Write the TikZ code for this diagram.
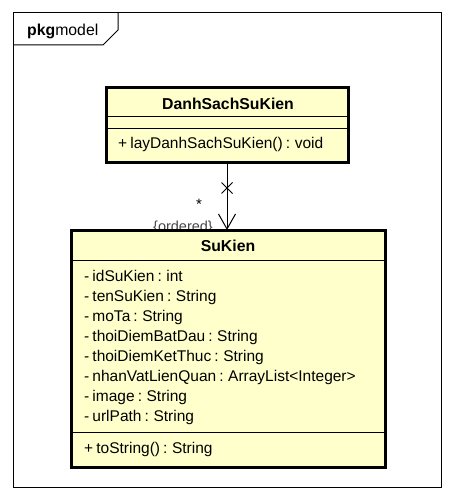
\documentclass[tikz,border=0pt]{standalone}
\usepackage{fontspec}
\setmainfont{Liberation Sans}
\usetikzlibrary{arrows.meta,shapes.misc}
\definecolor{classfill}{RGB}{255,255,204}
\definecolor{ordgray}{RGB}{70,70,70}
\newcommand{\tightsp}{\spaceskip=0.2em plus 0.05em\relax}
\tikzset{
  classbox/.style={draw=black, line width=3pt, fill=classfill, rectangle, inner sep=0pt, outer sep=0pt},
  sepline/.style={draw=black, line width=1pt},
  member/.style={anchor=west, inner sep=0pt, font=\fontsize{15.5}{18}\selectfont\tightsp, text height=10.5pt, text depth=3pt},
  ctitle/.style={inner sep=0pt, font=\bfseries\fontsize{15.8}{18}\selectfont},
  frameline/.style={draw=black, line width=1pt},
}
\begin{document}
\begin{tikzpicture}[x=1pt,y=-1pt]
\useasboundingbox (0,0) rectangle (454,500);
% package frame
\node[frameline, rectangle, inner sep=0pt, minimum width=428pt, minimum height=474pt] (frame) at (227,250) {};
\draw[frameline] (13,45) coordinate (tabA) -- (103,45) -- (118,30) -- (118,13) coordinate (tabB);
\node[anchor=west, inner sep=0pt, font=\fontsize{15.8}{18}\selectfont] (pkg) at (27,31) {\textbf{pkg}model};
% DanhSachSuKien
\node[classbox, minimum width=242pt, minimum height=74pt] (dsk) at (227,125) {};
\node[ctitle] (dsktitle) at (228,104) {DanhSachSuKien};
\draw[sepline] (dsk.west |- 0,117) -- (dsk.east |- 0,117);
\draw[sepline] (dsk.west |- 0,128) -- (dsk.east |- 0,128);
\node[member] (dskm1) at (118,145) {+ layDanhSachSuKien() : void};
% SuKien
\node[anchor=center, inner sep=0pt, font=\fontsize{14.5}{17}\selectfont, text=ordgray] (ord) at (183,228) {\{ordered\}};
\node[classbox, minimum width=314pt, minimum height=237pt] (sk) at (228,348.5) {};
\node[ctitle] (sktitle) at (228,246) {SuKien};
\draw[sepline] (sk.west |- 0,260) -- (sk.east |- 0,260);
\draw[sepline] (sk.west |- 0,432) -- (sk.east |- 0,432);
\foreach \t [count=\i] in {- idSuKien : int, - tenSuKien : String, - moTa : String, - thoiDiemBatDau : String, - thoiDiemKetThuc : String, - nhanVatLienQuan : ArrayList<Integer>, - image : String, - urlPath : String}{
  \node[member] (ska\i) at (84,{258+20*\i}) {\t};
}
\node[member] (skm1) at (84,450) {+ toString() : String};
% association
\draw[line width=1pt, -{Straight Barb[length=15pt,width=17pt,line width=1pt]}] (dsk.south -| 227,0) -- (sk.north -| 227,0);
\node[draw=black, line width=1pt, cross out, minimum size=10pt, inner sep=0pt] (xmark) at (227,188) {};
\node[inner sep=0pt, font=\fontsize{15}{18}\selectfont] (mult) at (199,204) {*};
\end{tikzpicture}
\end{document}
